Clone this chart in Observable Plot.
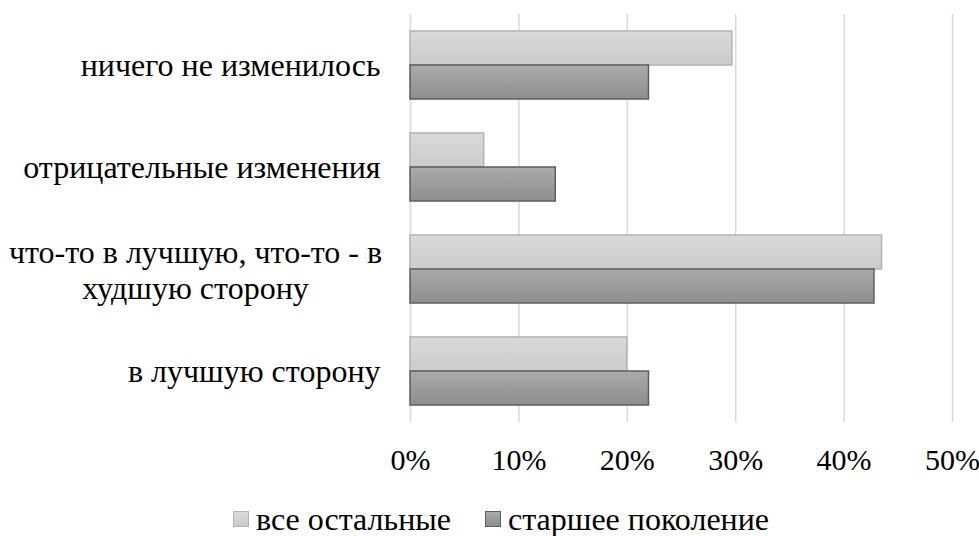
<!DOCTYPE html>
<html>
<head>
<meta charset="utf-8">
<script src="https://cdn.jsdelivr.net/npm/d3@7"></script>
<script src="https://cdn.jsdelivr.net/npm/@observablehq/plot@0.6"></script>
</head>
<body style="margin:0;background:#fff;font-family:'Liberation Serif',serif">
<div id="chart"></div>
<div id="legend" style="display:flex;align-items:center;margin-left:233px;margin-top:7px;font-family:'Liberation Serif',serif;font-size:32px;color:#000;line-height:44px;height:44px"></div>
<script>
const categories = [
  "ничего не изменилось",
  "отрицательные изменения",
  "что-то в лучшую, что-то - в\nхудшую сторону",
  "в лучшую сторону"
];
const seriesNames = ["все остальные", "старшее поколение"];
const valuesOthers = [0.297, 0.068, 0.435, 0.200];
const valuesOlder  = [0.220, 0.134, 0.428, 0.220];
const xTicks = [0, 0.1, 0.2, 0.3, 0.4, 0.5];

const rows = [];
categories.forEach((c, i) => {
  rows.push({category: c, series: seriesNames[0], value: valuesOthers[i]});
  rows.push({category: c, series: seriesNames[1], value: valuesOlder[i]});
});

const wrapped = categories[2];
const singleLine = categories.filter(c => c !== wrapped);
const FONT = "'Liberation Serif', serif";

const chart = Plot.plot({
  width: 979,
  height: 490,
  marginLeft: 410,
  marginRight: 27,
  marginTop: 14,
  marginBottom: 68,
  style: {fontSize: "32px", color: "#000", background: "#fff"},
  x: {domain: [0, 0.5], ticks: xTicks},
  y: {domain: categories, paddingInner: 1/3, paddingOuter: 1/6},
  marks: [
    Plot.ruleX(xTicks, {stroke: "#d9d9d9", strokeWidth: 1.5}),
    Plot.barX(rows.filter(d => d.series === seriesNames[0]), {
      x: "value", y: "category", insetBottom: 34,
      fill: "url(#gradLight)", stroke: "#b3b3b3", strokeWidth: 1.5
    }),
    Plot.barX(rows.filter(d => d.series === seriesNames[1]), {
      x: "value", y: "category", insetTop: 34,
      fill: "url(#gradDark)", stroke: "#5e5e5e", strokeWidth: 1.5
    }),
    Plot.axisX({ticks: xTicks, tickFormat: d3.format(".0%"), tickSize: 0, tickPadding: 26, fontSize: 30, label: null}),
    Plot.axisY({ticks: singleLine, tickSize: 0, tickPadding: 30, fontSize: 32, label: null, textAnchor: "end"}),
    Plot.axisY({ticks: [wrapped], tickSize: 0, tickPadding: 0, dx: -215, fontSize: 32, label: null, textAnchor: "middle", lineHeight: 1.13})
  ]
});

chart.style.fontFamily = FONT;
chart.querySelectorAll("text, tspan, g").forEach(el => {
  el.style.fontFamily = FONT;
  el.setAttribute("font-family", FONT);
});

const svg = d3.select(chart);
svg.style("display", "block");
const defs = svg.insert("defs", ":first-child");
function grad(id, top, bottom) {
  const g = defs.append("linearGradient").attr("id", id).attr("x1", 0).attr("y1", 0).attr("x2", 0).attr("y2", 1);
  g.append("stop").attr("offset", "0%").attr("stop-color", top);
  g.append("stop").attr("offset", "100%").attr("stop-color", bottom);
}
grad("gradLight", "#dadada", "#cbcbcb");
grad("gradDark", "#aaaaaa", "#8e8e8e");

document.getElementById("chart").appendChild(chart);

const legend = document.getElementById("legend");
const swatchStyles = [
  {bg: "linear-gradient(#dadada, #cbcbcb)", border: "#b3b3b3"},
  {bg: "linear-gradient(#aaaaaa, #8e8e8e)", border: "#5e5e5e"}
];
seriesNames.forEach((name, i) => {
  const item = document.createElement("div");
  item.style.display = "flex";
  item.style.alignItems = "center";
  item.style.marginRight = "34px";
  const sw = document.createElement("div");
  sw.style.width = "16px";
  sw.style.height = "16px";
  sw.style.marginRight = "7px";
  sw.style.boxSizing = "border-box";
  sw.style.background = swatchStyles[i].bg;
  sw.style.border = "1.5px solid " + swatchStyles[i].border;
  const label = document.createElement("span");
  label.style.fontFamily = FONT;
  label.style.whiteSpace = "nowrap";
  label.textContent = name;
  item.appendChild(sw);
  item.appendChild(label);
  legend.appendChild(item);
});
</script>
</body>
</html>
